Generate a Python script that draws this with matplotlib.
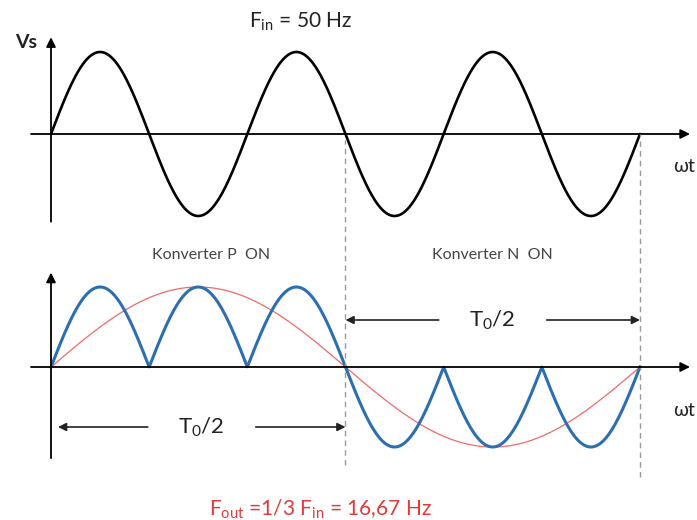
import numpy as np
import matplotlib
matplotlib.use("Agg")
import matplotlib.pyplot as plt

plt.rcParams["font.family"] = ["Lato", "DejaVu Sans"]

# --- values -------------------------------------------------------------
f_in_hz = 50.0
f_out_hz = 16.67
n_input_cycles = 3            # input cycles per output cycle
amplitude = 1.0

label_title = r"F$\mathregular{_{in}}$ = 50 Hz"
label_out = r"F$\mathregular{_{out}}$ =1/3 F$\mathregular{_{in}}$ = 16,67 Hz"
label_vs = "Vs"
label_wt = "ωt"
label_half = r"T$\mathregular{_0}$/2"
label_p_on = "Konverter P  ON"
label_n_on = "Konverter N  ON"

# --- waveforms ----------------------------------------------------------
wt_end = 2 * np.pi * n_input_cycles
wt = np.linspace(0, wt_end, 2000)
v_in = amplitude * np.sin(wt)
v_out_ref = amplitude * np.sin(wt / n_input_cycles)
half = wt_end / 2
v_out = np.where(wt <= half, np.abs(v_in), -np.abs(v_in))

# --- figure: two transparent axes spanning the canvas -------------------
W, H = 697, 520
fig = plt.figure(figsize=(W / 100, H / 100), dpi=100)
px_per_rad = (640 - 51) / wt_end
xlim = (-51 / px_per_rad, (W - 51) / px_per_rad)

top = fig.add_axes([0, 0, 1, 1])
top.set_xlim(*xlim)
top.set_ylim(-(H - 134) / 82, 134 / 82)
bot = fig.add_axes([0, 0, 1, 1])
bot.set_xlim(*xlim)
bot.set_ylim(-(H - 367) / 80, 367 / 80)
for a in (top, bot):
    a.axis("off")
    a.patch.set_alpha(0)

arrow_kw = dict(arrowstyle="-|>", color="black", lw=1.3, mutation_scale=14,
                shrinkA=0, shrinkB=0)


def axis_arrows(ax, x0, x1, y0, y1):
    ax.annotate("", xy=(x1, 0), xytext=(x0, 0), arrowprops=arrow_kw,
                annotation_clip=False)
    ax.annotate("", xy=(0, y1), xytext=(0, y0), arrowprops=arrow_kw,
                annotation_clip=False)


x_left = -20 / px_per_rad
x_right = (690 - 51) / px_per_rad
axis_arrows(top, x_left, x_right, -1.07, 1.18)
axis_arrows(bot, x_left, x_right, -1.14, 1.18)

# input voltage
top.plot(wt, v_in, color="black", lw=1.9, solid_capstyle="round")

# output reference and rectified output
bot.plot(wt, v_out_ref, color="#EE6A6A", lw=0.9)
bot.plot(wt, v_out, color="#2D6FAE", lw=2.2)

# dashed separators
bot.vlines(half, -1.22, (367 - 140) / 80, colors="#9A9A9A", lw=1.0,
           linestyles=(0, (4, 3)))
bot.vlines(wt_end, -1.38, (367 - 134) / 80, colors="#9A9A9A", lw=1.0,
           linestyles=(0, (4, 3)))

# half-period span arrows
gap = 54 / px_per_rad
span_kw = dict(arrowstyle="-|>", color="#222222", lw=1.2, mutation_scale=12,
               shrinkA=0, shrinkB=0)


def span(ax, x0, x1, y):
    mid = (x0 + x1) / 2
    ax.annotate("", xy=(x0, y), xytext=(mid - gap, y), arrowprops=span_kw,
                annotation_clip=False)
    ax.annotate("", xy=(x1, y), xytext=(mid + gap, y), arrowprops=span_kw,
                annotation_clip=False)
    ax.text(mid, y, label_half, ha="center", va="center", fontsize=16,
            color="#222222")


span(bot, 7 / px_per_rad, half, (367 - 427) / 80)
span(bot, half, wt_end, (367 - 320) / 80)

# labels
fig.text(301 / W, 1 - 22 / H, label_title, ha="center", va="center",
         fontsize=15, color="#222222")
fig.text(26 / W, 1 - 42 / H, label_vs, ha="center", va="center",
         fontsize=14, fontweight="bold", color="#222222")
fig.text(684 / W, 1 - 166 / H, label_wt, ha="center", va="center",
         fontsize=14, color="#222222")
fig.text(684 / W, 1 - 411 / H, label_wt, ha="center", va="center",
         fontsize=14, color="#222222")
fig.text(211 / W, 1 - 255 / H, label_p_on, ha="center", va="center",
         fontsize=11.5, color="#444444")
fig.text(492 / W, 1 - 255 / H, label_n_on, ha="center", va="center",
         fontsize=11.5, color="#444444")
fig.text(320 / W, 1 - 509 / H, label_out, ha="center", va="center",
         fontsize=15, color="#E03A3A")

fig.savefig("out.png", dpi=100, facecolor="white")
